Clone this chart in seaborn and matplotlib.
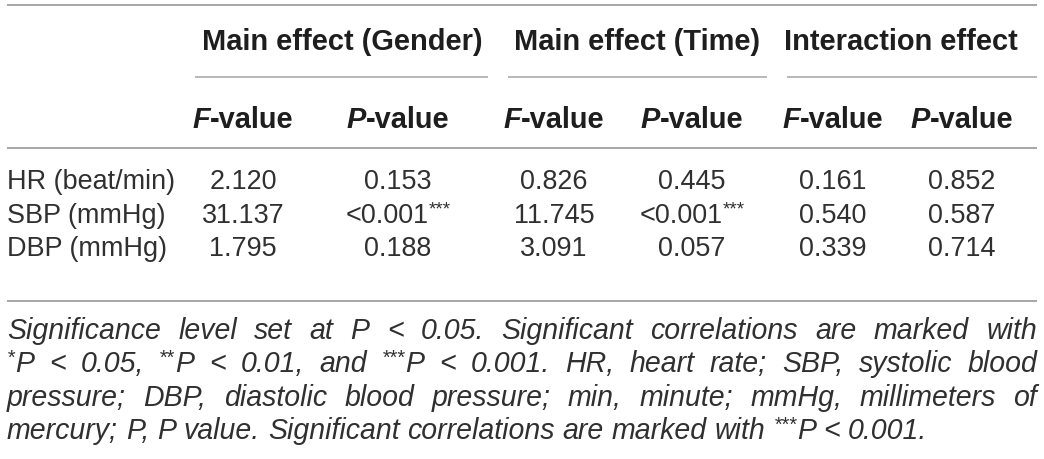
import matplotlib
matplotlib.use("Agg")
import matplotlib.pyplot as plt
import seaborn as sns

# table content
row_labels = ["HR (beat/min)", "SBP (mmHg)", "DBP (mmHg)"]
groups = ["Main effect (Gender)", "Main effect (Time)", "Interaction effect"]
sub_headers = ["F", "P"] * 3
gender_f = ["2.120", "31.137", "1.795"]
gender_p = ["0.153", "<0.001***", "0.188"]
time_f = ["0.826", "11.745", "3.091"]
time_p = ["0.445", "<0.001***", "0.057"]
inter_f = ["0.161", "0.540", "0.339"]
inter_p = ["0.852", "0.587", "0.714"]
footnote = [
    "Significance level set at P < 0.05. Significant correlations are marked with",
    "*P < 0.05, **P < 0.01, and ***P < 0.001. HR, heart rate; SBP, systolic blood",
    "pressure; DBP, diastolic blood pressure; min, minute; mmHg, millimeters of",
    "mercury; P, P value. Significant correlations are marked with ***P < 0.001.",
]

sns.set_theme(style="white")
plt.rcParams["font.family"] = ["Liberation Sans", "DejaVu Sans"]

W, H = 1044, 460
PT = 0.72  # px -> pt at dpi 100
BODY = dict(fontsize=27 * PT, color="#303030")
HEAD = dict(fontsize=29 * PT, color="#1e1e1e", fontweight="bold")
HEAD_IT = dict(HEAD, fontstyle="italic")
FOOT = dict(fontsize=28.5 * PT, color="#303030", fontstyle="italic")
RULE = "#a8a8a8"

fig = plt.figure(figsize=(W / 100, H / 100), dpi=100)
ax = fig.add_axes([0, 0, 1, 1])
ax.set_xlim(0, W)
ax.set_ylim(H, 0)
ax.axis("off")
renderer = fig.canvas.get_renderer()


def text_w(s, kw):
    t = ax.text(0, 0, s, **kw)
    w = t.get_window_extent(renderer).width
    t.remove()
    return w


def split_stars(s, kw):
    # leading/trailing asterisks become small raised runs
    small = dict(kw, fontsize=kw["fontsize"] * 0.7)
    raise_px = kw["fontsize"] / PT * 0.3
    lead = len(s) - len(s.lstrip("*"))
    core = s.strip("*")
    trail = len(s) - len(s.rstrip("*")) if core else 0
    runs = []
    if lead:
        runs.append(("*" * lead, small, raise_px))
    runs.append((core, kw, 0))
    if trail:
        runs.append(("*" * trail, small, raise_px))
    return runs


def runs_w(runs):
    return sum(text_w(t, k) for t, k, _ in runs)


def draw_runs(x, y, runs, ha="center"):
    w = runs_w(runs)
    if ha == "center":
        x = x - w / 2
    for t, k, dy in runs:
        ax.text(x, y - dy, t, ha="left", va="baseline", **k)
        x += text_w(t, k)
    return w


# rules
ax.hlines([6, 149, 302], 7, 1037, color=RULE, lw=2 * PT)
for x0, x1 in [(195, 488), (508, 767), (787, 1037)]:
    ax.hlines(78, x0, x1, color=RULE, lw=1.6 * PT)

# header rows
for gx, g in zip([342, 637, 901], groups):
    ax.text(gx, 50, g, ha="center", va="baseline", **HEAD)

col_x = [243, 398, 554, 692, 833, 962]
for cx, letter in zip(col_x, sub_headers):
    draw_runs(cx, 128, [(letter, HEAD_IT, 0), ("-value", HEAD, 0)])

# body rows
columns = [gender_f, gender_p, time_f, time_p, inter_f, inter_p]
row_y = [189, 223, 256]
for i, (ry, lab) in enumerate(zip(row_y, row_labels)):
    ax.text(7, ry, lab, ha="left", va="baseline", **BODY)
    for cx, col in zip(col_x, columns):
        draw_runs(cx, ry, split_stars(col[i], BODY))

# footnote, justified
space = text_w("a a", FOOT) - text_w("aa", FOOT)
foot_y = [339, 372, 406, 439]
for j, (fy, line) in enumerate(zip(foot_y, footnote)):
    words = [split_stars(wd, FOOT) for wd in line.split(" ")]
    widths = [runs_w(r) for r in words]
    if j < len(footnote) - 1:
        gap = (1037 - 7 - sum(widths)) / (len(words) - 1)
    else:
        gap = space
    x = 7
    for r, w in zip(words, widths):
        draw_runs(x, fy, r, ha="left")
        x += w + gap

fig.savefig("out.png", dpi=100, facecolor="white")
